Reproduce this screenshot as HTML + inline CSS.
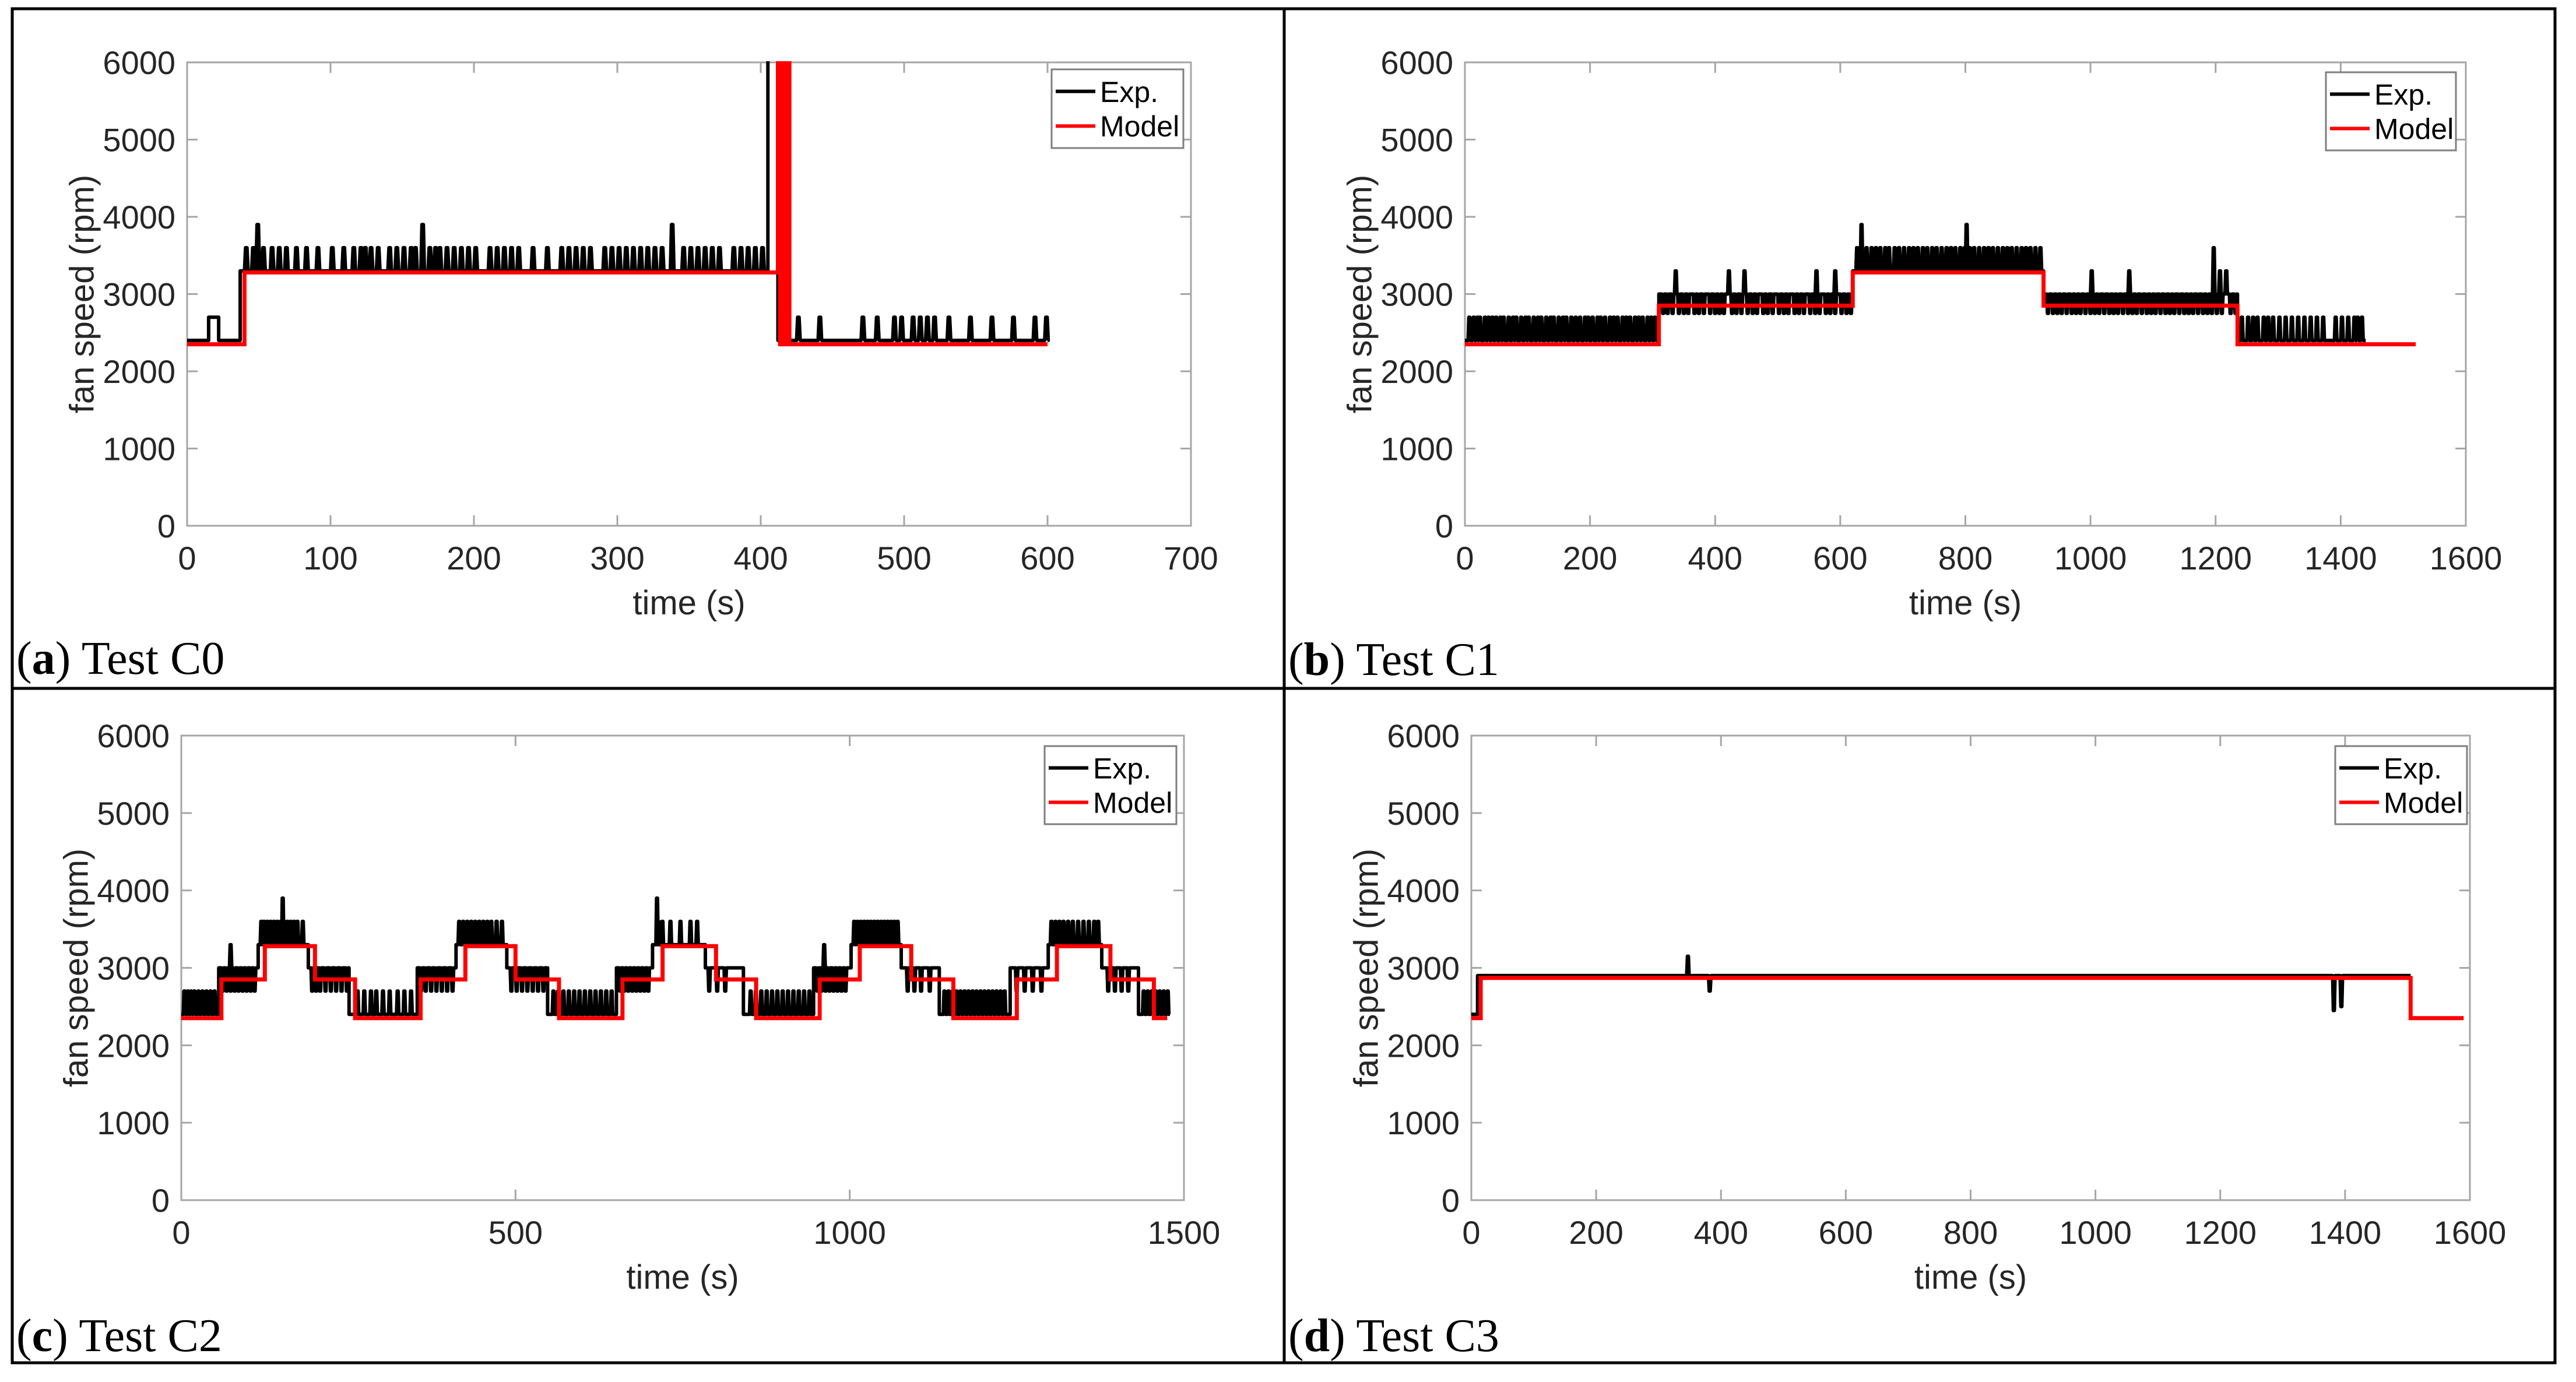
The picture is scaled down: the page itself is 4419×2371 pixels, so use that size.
<!DOCTYPE html>
<html><head><meta charset="utf-8"><style>
html,body{margin:0;padding:0;background:#fff}
svg{display:block}
text{font-family:"Liberation Sans",Arial,sans-serif}
.cap{font-family:"Liberation Serif","Times New Roman",serif}
</style></head><body>
<svg id="fig" width="4419" height="2371" viewBox="0 0 4419 2371" xmlns="http://www.w3.org/2000/svg">
<rect x="0" y="0" width="4419" height="2371" fill="#fff"/>
<rect x="21" y="15" width="4362" height="2323" fill="none" stroke="#000" stroke-width="5"/>
<line x1="2203" y1="15" x2="2203" y2="2338" stroke="#000" stroke-width="5"/>
<line x1="21" y1="1181" x2="4383" y2="1181" stroke="#000" stroke-width="5"/>
<text class="cap" x="28" y="1156" font-size="80">(<tspan font-weight="bold">a</tspan>) Test C0</text>
<text class="cap" x="2210" y="1158" font-size="80">(<tspan font-weight="bold">b</tspan>) Test C1</text>
<text class="cap" x="28" y="2318" font-size="80">(<tspan font-weight="bold">c</tspan>) Test C2</text>
<text class="cap" x="2210" y="2318" font-size="80">(<tspan font-weight="bold">d</tspan>) Test C3</text>
</svg>
<script>
// ---------- Panel a (Test C0) ----------
const aXTicks=[0,100,200,300,400,500,600,700];
const aModelSegs=[[0,40,2350],[40,412,3280],[412,413.5,6500],[413.5,414.5,2350],[414.5,416,6500],[416,417,2350],[417,418.5,6500],[418.5,419.2,2350],[419.2,420,6500],[420,600,2350]];
const aExpSegs=[
 [0,15,2400,2400,[]],[15,22,2700,2700,[]],[22,37,2400,2400,[]],
 [37,405,3300,3600,[40,45,52,58,63,68,75,82,90,100,108,115,120,123,127,132,140,145,150,155,158,168,172,175,180,185,190,195,200,210,215,220,225,230,240,250,260,265,270,275,280,290,295,300,305,310,315,320,325,330,345,350,355,360,365,370,380,385,390,395,400]],
 [405,412,6500,6500,[]],
 [412,600,2400,2700,[425,440,470,480,492,497,505,510,515,520,530,545,560,575,590,598]]];
const aExpPeaks=[[48,3900],[163,3900],[337,3900]];
// ---------- Panel b (Test C1) ----------
const bXTicks=[0,200,400,600,800,1000,1200,1400,1600];
const bModelSegs=[[0,310,2350],[310,620,2850],[620,925,3280],[925,1235,2850],[1235,1520,2350]];
const bExpSegs=[
 [0,310,2400,2700,[5,12,18,22,30,36,42,48,55,60,68,75,80,88,95,100,108,115,120,128,135,140,148,155,160,168,175,182,190,195,202,210,215,222,230,236,242,250,256,262,270,276,282,290,296,302]],
 [310,620,3000,2750,[315,322,330,340,348,355,365,372,380,390,398,405,412,425,432,440,450,458,465,475,482,490,500,508,515,525,532,540,550,558,565,575,582,590,600,608,615]],
 [620,925,3300,3600,[625,640,648,655,662,670,676,685,692,700,708,715,722,730,737,745,752,760,768,775,782,790,797,805,812,820,828,835,842,850,858,865,872,880,888,895,902,910,918]],
 [925,1235,3000,2750,[930,938,945,952,960,968,975,982,990,998,1005,1012,1020,1028,1035,1042,1050,1058,1065,1072,1080,1088,1095,1102,1110,1118,1125,1132,1140,1148,1155,1162,1170,1178,1185,1192,1200,1208,1222,1230]],
 [1235,1440,2400,2700,[1240,1250,1258,1265,1275,1282,1290,1300,1310,1320,1330,1340,1350,1360,1370,1390,1400,1410,1420,1425,1432]]];
const bExpPeaks=[[335,3300],[420,3300],[445,3300],[560,3300],[590,3300],[632,3900],[800,3900],[1000,3300],[1060,3300],[1195,3600],[1205,3300],[1215,3300]];
// ---------- Panel c (Test C2) ----------
const cXTicks=[0,500,1000,1500];
const cModelSegs=[[0,60,2350],[60,125,2850],[125,200,3280],[200,260,2850],[260,358,2350],[358,425,2850],[425,500,3280],[500,565,2850],[565,660,2350],[660,720,2850],[720,800,3280],[800,860,2850],[860,955,2350],[955,1015,2850],[1015,1092,3280],[1092,1155,2850],[1155,1250,2350],[1250,1310,2850],[1310,1390,3280],[1390,1455,2850],[1455,1475,2350]];
const cExpSegs=[
 [0,56,2400,2700,[3,8,13,18,24,30,36,42,48]],
 [56,115,3000,2700,[60,66,72,78,84,90,96,102,108]],
 [115,190,3300,3600,[118,122,127,132,137,142,147,152,157,162,167,172,180]],
 [190,251,3000,2700,[194,200,206,214,222,230,238,246]],
 [251,353,2400,2700,[262,272,282,290,300,310,322,332,342]],
 [353,411,3000,2700,[357,364,372,380,388,396,404]],
 [411,487,3300,3600,[414,420,426,432,438,444,450,456,462,470,478]],
 [487,548,3000,2700,[492,500,508,516,524,532,540]],
 [548,651,2400,2700,[555,562,570,578,586,594,602,610,618,626,634,642]],
 [651,705,3000,2700,[655,661,667,673,679,685,691,697]],
 [705,784,3300,3600,[712,718,730,745,760,770]],
 [784,841,3000,2700,[788,800,812]],
 [841,946,2400,2700,[850,858,866,874,882,890,898,906,914,922,930,938]],
 [946,1002,3000,2700,[950,956,962,968,974,980,986,992]],
 [1002,1077,3300,3600,[1005,1010,1015,1020,1025,1030,1035,1040,1045,1050,1055,1060,1065,1070]],
 [1077,1134,3000,2700,[1085,1095,1105,1118]],
 [1134,1240,2400,2700,[1140,1146,1152,1158,1164,1170,1176,1182,1188,1194,1200,1206,1212,1218,1224,1230]],
 [1240,1297,3000,2700,[1248,1260,1272,1285]],
 [1297,1377,3300,3600,[1300,1306,1312,1318,1325,1332,1340,1348,1356,1364,1370]],
 [1377,1432,3000,2700,[1385,1395,1405,1415]],
 [1432,1479,2400,2700,[1438,1444,1450,1456,1462,1468,1474]]];
const cExpPeaks=[[72,3300],[150,3900],[710,3900],[960,3300]];
// ---------- Panel d (Test C3) ----------
const dXTicks=[0,200,400,600,800,1000,1200,1400,1600];
const dModelSegs=[[0,15,2350],[15,1505,2870],[1505,1590,2350]];
const dExpSegs=[[0,10,2400,2400,[]],[10,1505,2900,2900,[]]];
const dExpPeaks=[[345,3150],[380,2700],[1380,2450],[1392,2500]];
// shared
const yTicks=[0,1000,2000,3000,4000,5000,6000];
const legendLabels=["Exp.","Model"];

const NS="http://www.w3.org/2000/svg";
const svg=document.getElementById('fig');
function mk(tag,attrs,parent){const e=document.createElementNS(NS,tag);for(const k in attrs)e.setAttribute(k,attrs[k]);(parent||svg).appendChild(e);return e;}

function drawPanel(id,box,xmax,xTicks,modelSegs,expSegs,expPeaks,spikeW,leg){
  const g=mk('g',{});
  
  
  const X=t=>box.L+(t/xmax)*(box.R-box.L);
  const Y=v=>box.B-(v/6000)*(box.B-box.T);
  const clip=mk('clipPath',{id:'clip'+id},g);
  mk('rect',{x:box.L,y:box.T-2,width:box.R-box.L,height:box.B-box.T+2},clip);
  const ax=mk('rect',{x:box.L,y:box.T,width:box.R-box.L,height:box.B-box.T,fill:'none',stroke:'#a6a6a6','stroke-width':3},g);
  
  
  xTicks.forEach(t=>{
    const x=X(t);
    mk('line',{x1:x,y1:box.B,x2:x,y2:box.B-18,stroke:'#a6a6a6','stroke-width':3},g);
    mk('line',{x1:x,y1:box.T,x2:x,y2:box.T+18,stroke:'#a6a6a6','stroke-width':3},g);
    const tl=mk('text',{x:x,y:box.B+75,'font-size':56,'text-anchor':'middle',fill:'#262626'},g);
    tl.textContent=t;
    
    
  });
  yTicks.forEach(v=>{
    const y=Y(v);
    mk('line',{x1:box.L,y1:y,x2:box.L+18,y2:y,stroke:'#a6a6a6','stroke-width':3},g);
    mk('line',{x1:box.R,y1:y,x2:box.R-18,y2:y,stroke:'#a6a6a6','stroke-width':3},g);
    const tl=mk('text',{x:box.L-20,y:y+20,'font-size':56,'text-anchor':'end',fill:'#262626'},g);
    tl.textContent=v;
    
    
  });
  const xl=mk('text',{x:(box.L+box.R)/2,y:box.B+152,'font-size':58,'text-anchor':'middle',fill:'#262626'},g);
  xl.textContent='time (s)';
  
  
  const yc=(box.T+box.B)/2, yx=box.L-176;
  const yl=mk('text',{x:yx,y:yc,'font-size':58,'text-anchor':'middle',fill:'#262626','dominant-baseline':'middle',transform:`rotate(-90 ${yx} ${yc})`},g);
  yl.textContent='fan speed (rpm)';
  
  
  let pts=[];
  expSegs.forEach(s=>{
    const [t0,t1,base,hi,sp]=s;
    let ev=sp.map(t=>[t,hi]);
    expPeaks.forEach(p=>{if(p[0]>=t0&&p[0]<t1)ev.push(p);});
    ev.sort((a,b)=>a[0]-b[0]);
    pts.push([t0,base]);
    ev.forEach(e=>{pts.push([e[0],base],[e[0]+spikeW*0.3,e[1]],[e[0]+spikeW*0.7,e[1]],[e[0]+spikeW,base]);});
    pts.push([t1,base]);
  });
  const ep=mk('polyline',{points:pts.map(p=>X(p[0]).toFixed(1)+','+Y(p[1]).toFixed(1)).join(' '),fill:'none',stroke:'#000','stroke-width':6,'stroke-linejoin':'round','clip-path':`url(#clip${id})`},g);
  
  
  let mp=[];
  modelSegs.forEach(s=>{mp.push([s[0],s[2]],[s[1],s[2]]);});
  const rp=mk('polyline',{points:mp.map(p=>X(p[0]).toFixed(1)+','+Y(p[1]).toFixed(1)).join(' '),fill:'none',stroke:'#ff0000','stroke-width':7,'clip-path':`url(#clip${id})`},g);
  
  
  const lg=mk('g',{},g);
  
  
  mk('rect',{x:leg.x,y:leg.y,width:leg.w,height:leg.h,fill:'#fff',stroke:'#7f7f7f','stroke-width':3},lg);
  legendLabels.forEach((lab,i)=>{
    const yy=leg.y+leg.h*(i===0?0.28:0.72);
    mk('line',{x1:leg.x+7,y1:yy,x2:leg.x+75,y2:yy,stroke:i===0?'#000':'#ff0000','stroke-width':6},lg);
    const t=mk('text',{x:leg.x+83,y:yy+18,'font-size':50,fill:'#000'},lg);
    t.textContent=lab;
    
    
  });
}
drawPanel('a',{L:321,R:2043,T:107,B:902},700,aXTicks,aModelSegs,aExpSegs,aExpPeaks,2.5,{x:1804,y:119,w:226,h:135});
drawPanel('b',{L:2513,R:4230,T:107,B:902},1600,bXTicks,bModelSegs,bExpSegs,bExpPeaks,4,{x:3990,y:124,w:223,h:134});
drawPanel('c',{L:311,R:2031,T:1262,B:2059},1500,cXTicks,cModelSegs,cExpSegs,cExpPeaks,3.5,{x:1792,y:1280,w:226,h:134});
drawPanel('d',{L:2524,R:4237,T:1262,B:2059},1600,dXTicks,dModelSegs,dExpSegs,dExpPeaks,4,{x:4006,y:1280,w:226,h:134});
</script>
</body></html>
